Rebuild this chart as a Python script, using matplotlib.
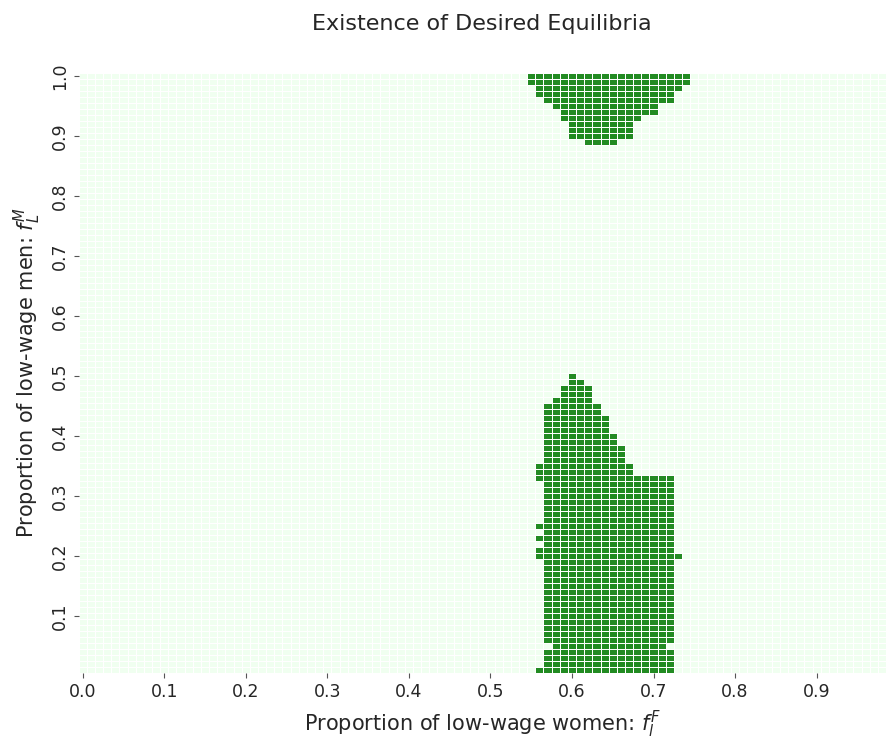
import numpy as np
import pandas as pd
import seaborn as sns
import matplotlib.pyplot as plt
from matplotlib.colors import ListedColormap

# grid of parameter values
f_women = np.round(np.arange(0, 99) * 0.01, 2)          # columns 0.00 .. 0.98
f_men = np.round(np.arange(100, 0, -1) * 0.01, 2)       # rows 1.00 .. 0.01

# rows where a desired equilibrium exists: men value, first and last women value
eq_men = [1.00, 0.99, 0.98, 0.97, 0.96, 0.95, 0.94, 0.93, 0.92, 0.91, 0.90, 0.89,
          0.50, 0.49, 0.48, 0.47, 0.46, 0.45, 0.44, 0.43, 0.42, 0.41, 0.40,
          0.39, 0.38, 0.37, 0.36, 0.35, 0.34, 0.33, 0.32, 0.31, 0.30,
          0.29, 0.28, 0.27, 0.26, 0.25, 0.24, 0.23, 0.22, 0.21, 0.20,
          0.19, 0.18, 0.17, 0.16, 0.15, 0.14, 0.13, 0.12, 0.11, 0.10,
          0.09, 0.08, 0.07, 0.06, 0.05, 0.04, 0.03, 0.02, 0.01]
eq_start = [0.55, 0.55, 0.56, 0.56, 0.57, 0.58, 0.59, 0.59, 0.60, 0.60, 0.60, 0.62,
            0.60, 0.60, 0.59, 0.59, 0.58, 0.57, 0.57, 0.57, 0.57, 0.57, 0.57,
            0.57, 0.57, 0.57, 0.57, 0.56, 0.56, 0.56, 0.57, 0.57, 0.57,
            0.57, 0.57, 0.57, 0.57, 0.56, 0.57, 0.56, 0.57, 0.56, 0.56,
            0.57, 0.57, 0.57, 0.57, 0.57, 0.57, 0.57, 0.57, 0.57, 0.57,
            0.57, 0.57, 0.57, 0.57, 0.58, 0.57, 0.57, 0.57, 0.56]
eq_end = [0.74, 0.74, 0.73, 0.72, 0.72, 0.70, 0.70, 0.68, 0.67, 0.67, 0.67, 0.65,
          0.60, 0.61, 0.62, 0.62, 0.62, 0.63, 0.63, 0.64, 0.64, 0.64, 0.65,
          0.65, 0.66, 0.66, 0.66, 0.67, 0.67, 0.72, 0.72, 0.72, 0.72,
          0.72, 0.72, 0.72, 0.72, 0.72, 0.72, 0.72, 0.72, 0.72, 0.73,
          0.72, 0.72, 0.72, 0.72, 0.72, 0.72, 0.72, 0.72, 0.72, 0.72,
          0.72, 0.72, 0.72, 0.72, 0.71, 0.72, 0.72, 0.72, 0.72]

exists = pd.DataFrame(0, index=f_men, columns=f_women)
for m, a, b in zip(eq_men, eq_start, eq_end):
    cols = [w for w in f_women if a - 1e-9 <= w <= b + 1e-9]
    exists.loc[m, cols] = 1

fig = plt.figure(figsize=(8.86, 7.4), dpi=100)
ax = fig.add_axes([0.0887, 0.0905, 0.9113, 0.811])
sns.heatmap(exists, ax=ax, cmap=ListedColormap(["#f0fff0", "#228b22"]),
            vmin=0, vmax=1, cbar=False, linewidths=0.5, linecolor="white",
            xticklabels=False, yticklabels=False)

ax.set_xticks(np.arange(0, 99, 10) + 0.5)
ax.set_xticklabels(["%.1f" % v for v in f_women[::10]], fontsize=12.5, rotation=0,
                   color="#262626")
ax.set_yticks(np.arange(0, 100, 10) + 0.5)
ax.set_yticklabels(["%.1f" % v for v in f_men[::10]], fontsize=12.5,
                   rotation=90, va="center", color="#262626")
ax.tick_params(length=3.5, width=0.8, color="#555555")

ax.set_xlabel("Proportion of low-wage women: $f_l^F$", fontsize=15, color="#262626",
              labelpad=6)
ax.set_ylabel("Proportion of low-wage men: $f_L^M$", fontsize=15, color="#262626",
              labelpad=6)
ax.set_title("Existence of Desired Equilibria", fontsize=16, pad=31, color="#262626")

fig.savefig("out.png", dpi=100)
